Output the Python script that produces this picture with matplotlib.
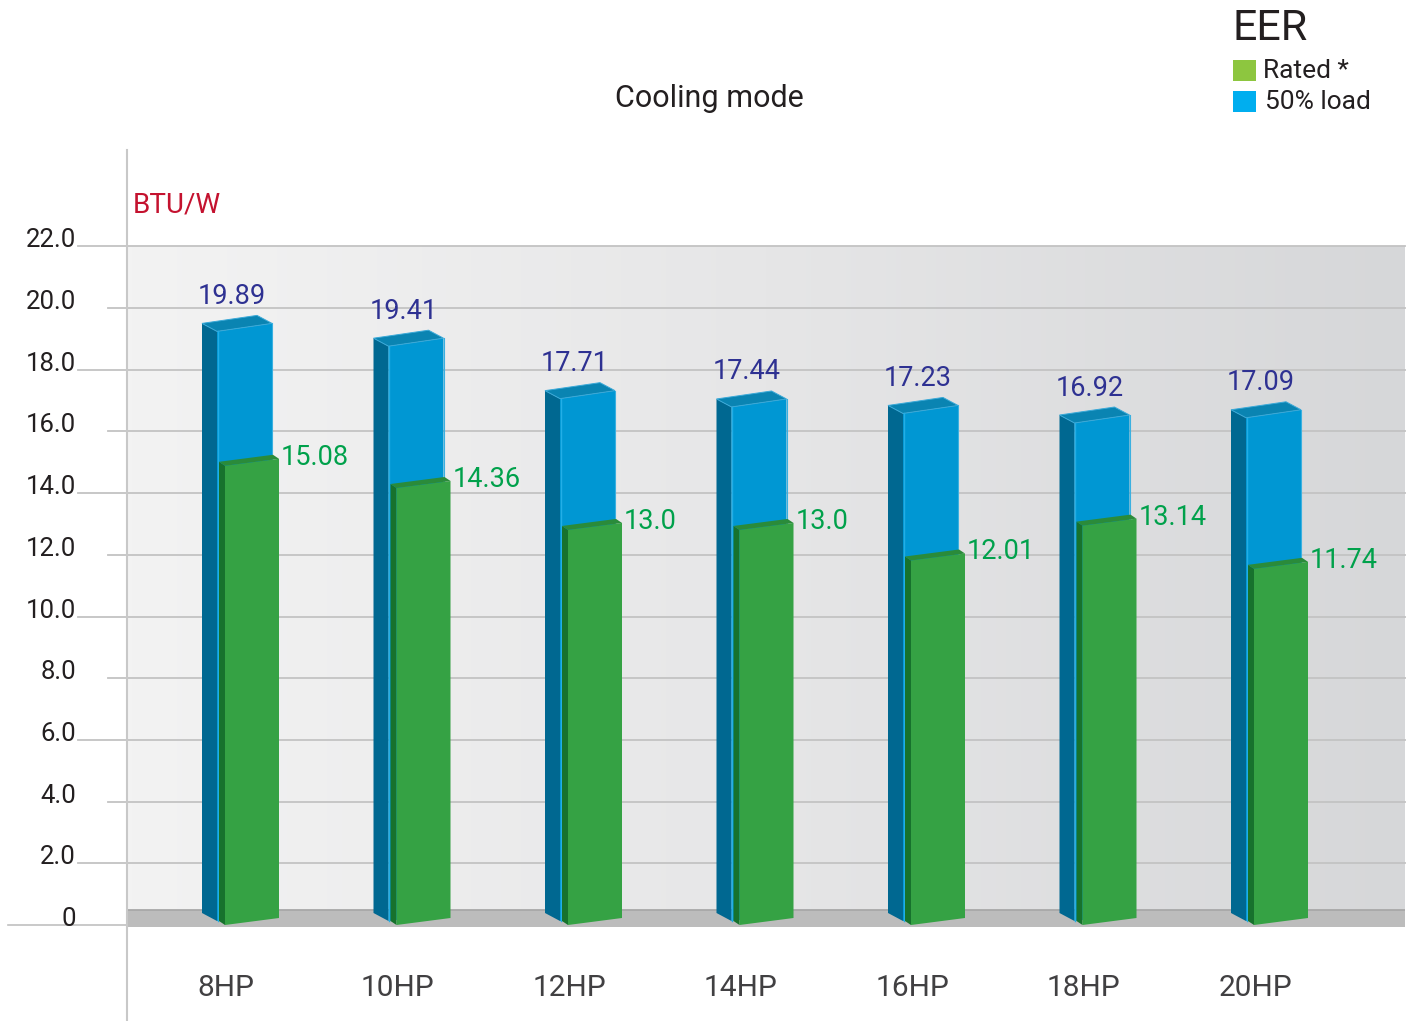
import matplotlib
matplotlib.use("Agg")
import matplotlib.pyplot as plt
import numpy as np
from matplotlib.patches import Polygon, Rectangle
from matplotlib.colors import LinearSegmentedColormap

plt.rcParams['font.family'] = ['Roboto', 'DejaVu Sans']

# ---------------- data ----------------
categories = ['8HP', '10HP', '12HP', '14HP', '16HP', '18HP', '20HP']
eer_50_load = [19.89, 19.41, 17.71, 17.44, 17.23, 16.92, 17.09]
eer_rated = [15.08, 14.36, 13.0, 13.0, 12.01, 13.14, 11.74]
eer_50_labels = ['19.89', '19.41', '17.71', '17.44', '17.23', '16.92', '17.09']
eer_rated_labels = ['15.08', '14.36', '13.0', '13.0', '12.01', '13.14', '11.74']
y_ticks = [0, 2, 4, 6, 8, 10, 12, 14, 16, 18, 20, 22]
y_tick_labels = ['0', '2.0', '4.0', '6.0', '8.0', '10.0', '12.0', '14.0', '16.0',
                 '18.0', '20.0', '22.0']

# ---------------- layout helpers ----------------
W, H = 1409, 1021
fig = plt.figure(figsize=(W / 100, H / 100), dpi=100)
fig.patch.set_facecolor('white')

S = 171.5      # px per category
X0 = 237.0     # px of category 0 centre
K = 30.85      # px per unit of value
Y0 = 925.0     # px of value 0
AX_L, AX_R, AX_T, AX_B = 127, 1405, 150, 1021

ax = fig.add_axes([AX_L / W, 1 - AX_B / H, (AX_R - AX_L) / W, (AX_B - AX_T) / H])
xlim = ((AX_L - X0) / S, (AX_R - X0) / S)
ylim = ((Y0 - AX_B) / K, (Y0 - AX_T) / K)
ax.set_xlim(*xlim)
ax.set_ylim(*ylim)
ax.set_xticks([])
ax.set_yticks([])
for s in ['top', 'right', 'bottom']:
    ax.spines[s].set_visible(False)
ax.spines['left'].set_color('#c8c8c8')
ax.spines['left'].set_linewidth(1.5)
ax.set_facecolor('none')


def dx(p):
    return p / S


def dy(p):
    # pixels downward -> value units
    return -p / K


def xpx(px):
    return (px - X0) / S


# ---------------- background ----------------
floor_top = dy(-15)
grad = LinearSegmentedColormap.from_list('bg', ['#f3f3f3', '#e6e6e7', '#d6d7d9'])
ax.imshow(np.linspace(0, 1, 256).reshape(1, -1), cmap=grad, aspect='auto',
          extent=(xlim[0], xlim[1], floor_top, 22), zorder=0, origin='lower')
ax.add_patch(Rectangle((xlim[0], dy(2)), xlim[1] - xlim[0], floor_top - dy(2),
                       facecolor='#bcbcbc', edgecolor='none', zorder=1))
ax.plot([xlim[0], xlim[1]], [floor_top, floor_top], color='#a8a8a8', lw=1.3, zorder=1.1)

# grid lines and tick labels
for t, lab in zip(y_ticks, y_tick_labels):
    if t == 0:
        ax.plot([xpx(8), xlim[0]], [0, 0], color='#c0c0c0', lw=1.2, clip_on=False, zorder=1)
    else:
        start = 78 if (t // 2) % 2 == 1 else 108
        ax.plot([xpx(start), xlim[1]], [t, t], color='#c3c3c3', lw=1.3, clip_on=False, zorder=1)
    ax.text(xpx(76), t + dy(1), lab, ha='right', va='baseline', fontsize=18.5,
            color='#231f20', clip_on=False)

# ---------------- bars ----------------
BLUE_FRONT = '#0097d3'
BLUE_SIDE = '#006891'
BLUE_TOP = '#0a84b2'
GREEN_FRONT = '#35a244'
GREEN_SIDE = '#17722d'
GREEN_TOP = '#2a8b3a'

for i, (vb, vg) in enumerate(zip(eer_50_load, eer_rated)):
    c = i
    # blue (50% load) bar, behind
    side = [(c + dx(-35), vb + dy(12)), (c + dx(-20), vb + dy(20)),
            (c + dx(-20), dy(-4)), (c + dx(-35), dy(-12))]
    front = [(c + dx(-20), vb + dy(20)), (c + dx(35), vb + dy(12)),
             (c + dx(35), dy(-11)), (c + dx(-20), dy(-4))]
    top = [(c + dx(-35), vb + dy(12)), (c + dx(-20), vb + dy(20)),
           (c + dx(35), vb + dy(12)), (c + dx(20), vb + dy(4))]
    ax.add_patch(Polygon(side, closed=True, facecolor=BLUE_SIDE, edgecolor='none', zorder=3))
    ax.add_patch(Polygon(front, closed=True, facecolor=BLUE_FRONT, edgecolor='none', zorder=3))
    ax.add_patch(Polygon(top, closed=True, facecolor=BLUE_TOP, edgecolor='#3aa9d8',
                         lw=0.7, zorder=3.1))
    ax.plot([c + dx(35), c + dx(35)], [vb + dy(12), dy(-11)], color='#3ab0e0', lw=0.8, zorder=3.1)
    ax.plot([c + dx(-19.5), c + dx(-19.5)], [vb + dy(20), dy(-4)], color='#23aee6', lw=1.0, zorder=3.1)

    # green (rated) bar, in front
    gside = [(c + dx(-18), vg + dy(2)), (c + dx(-12), vg + dy(6)),
             (c + dx(-12), dy(0)), (c + dx(-18), dy(-4))]
    gfront = [(c + dx(-12), vg + dy(6)), (c + dx(42), vg + dy(-1)),
              (c + dx(42), dy(-7)), (c + dx(-12), dy(0))]
    gtop = [(c + dx(-18), vg + dy(2)), (c + dx(-12), vg + dy(6)),
            (c + dx(42), vg + dy(-1)), (c + dx(36), vg + dy(-5))]
    ax.add_patch(Polygon(gside, closed=True, facecolor=GREEN_SIDE, edgecolor='none', zorder=4))
    ax.add_patch(Polygon(gfront, closed=True, facecolor=GREEN_FRONT, edgecolor='none', zorder=4))
    ax.add_patch(Polygon(gtop, closed=True, facecolor=GREEN_TOP, edgecolor='none', zorder=4.1))

    # value labels
    ax.text(c + dx(-5), vb + dy(-7.5), eer_50_labels[i], ha='center', va='baseline',
            fontsize=19.5, color='#2e3192', zorder=5)
    ax.text(c + dx(44), vg + dy(5), eer_rated_labels[i], ha='left', va='baseline',
            fontsize=19.5, color='#00a14b', zorder=5)

    # category labels
    ax.text(c + dx(-11), dy(71), categories[i], ha='center', va='baseline',
            fontsize=21.5, color='#414042', clip_on=False)

# ---------------- titles and legend ----------------
def fx(px):
    return px / W


def fy(py):
    return 1 - py / H


fig.text(fx(709), fy(107), 'Cooling mode', ha='center', va='baseline', fontsize=22,
         color='#231f20')
fig.text(fx(133), fy(212), 'BTU/W', ha='left', va='baseline', fontsize=20,
         color='#c4122f')
fig.text(fx(1232), fy(40), 'EER', ha='left', va='baseline', fontsize=31, color='#231f20')
fig.patches.append(Rectangle((fx(1233), fy(81)), fx(23), 21 / H, transform=fig.transFigure,
                             facecolor='#8dc63f', edgecolor='none'))
fig.patches.append(Rectangle((fx(1233), fy(112)), fx(23), 21 / H, transform=fig.transFigure,
                             facecolor='#00aeef', edgecolor='none'))
fig.text(fx(1263), fy(78), 'Rated *', ha='left', va='baseline', fontsize=19, color='#231f20')
fig.text(fx(1265), fy(109), '50% load', ha='left', va='baseline', fontsize=19, color='#231f20')

fig.savefig('out.png', dpi=100)
